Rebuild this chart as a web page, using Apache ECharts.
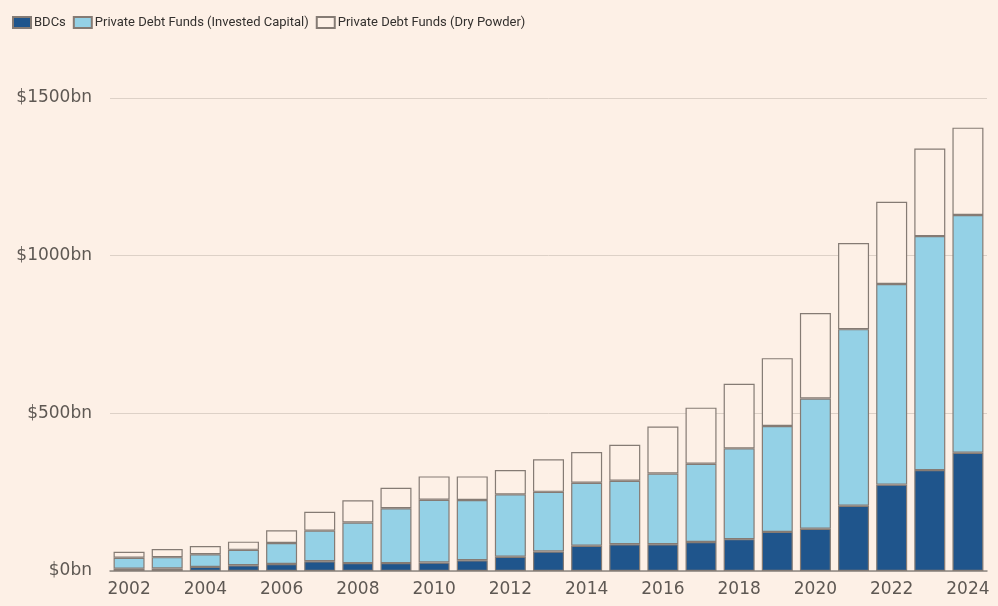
<!DOCTYPE html>
<html>
<head>
<meta charset="utf-8">
<script src="https://cdn.jsdelivr.net/npm/echarts@6/dist/echarts.min.js"></script>
<style>
  html, body { margin: 0; padding: 0; background: #fdf0e6; }
  #chart { width: 998px; height: 606px; }
</style>
</head>
<body>
<div id="chart"></div>
<script>
// Years on the category axis
const years = ['2002','2003','2004','2005','2006','2007','2008','2009','2010','2011','2012',
  '2013','2014','2015','2016','2017','2018','2019','2020','2021','2022','2023','2024'];

// Assets held by business development companies ($bn)
const bdcs = [7, 8, 13, 18, 22, 31, 25, 25, 27, 34, 45,
  62, 80, 85, 85, 92, 101, 124, 134, 207, 274, 320, 375];

// Private debt funds: invested capital ($bn, stacked above BDCs)
const investedCapital = [35, 36, 40, 49, 67, 97, 129, 174, 199, 191, 198,
  189, 200, 201, 224, 248, 288, 336, 413, 560, 636, 742, 754];

// Private debt funds: uninvested dry powder ($bn, stacked on top)
const dryPowder = [19, 26, 26, 26, 40, 60, 70, 65, 74, 75, 77,
  103, 97, 114, 149, 178, 205, 215, 271, 273, 261, 278, 277];

const yTicks = [0, 500, 1000, 1500];

const bg = '#fdf0e6';
const edge = '#857b74';

const chart = echarts.init(document.getElementById('chart'));
chart.setOption({
  backgroundColor: bg,
  animation: false,
  legend: {
    left: 7,
    top: 11,
    icon: 'rect',
    itemWidth: 18,
    itemHeight: 11,
    itemGap: 7,
    textStyle: {
      color: '#33302e',
      fontSize: 13,
      fontFamily: 'Roboto',
      padding: [0, 0, 0, -2]
    },
    data: ['BDCs', 'Private Debt Funds (Invested Capital)', 'Private Debt Funds (Dry Powder)']
  },
  grid: { left: 110, right: 11, top: 98, bottom: 35, containLabel: false },
  xAxis: {
    type: 'category',
    data: years,
    axisLine: { lineStyle: { color: '#8f8882', width: 1.5 } },
    axisTick: { alignWithLabel: true, length: 6, lineStyle: { color: '#a39a93', width: 1.5 } },
    axisLabel: {
      interval: 1,
      color: '#5e5853',
      fontSize: 17,
      fontFamily: 'DejaVu Sans',
      margin: 10
    }
  },
  yAxis: {
    type: 'value',
    min: yTicks[0],
    max: yTicks[yTicks.length - 1],
    interval: 500,
    axisLine: { show: false },
    axisTick: { show: false },
    axisLabel: {
      color: '#5e5853',
      fontSize: 17,
      fontFamily: 'DejaVu Sans',
      margin: 18,
      formatter: v => '$' + v + 'bn'
    },
    splitLine: { lineStyle: { color: '#ddd1c7', width: 1 } }
  },
  series: [
    {
      name: 'BDCs',
      type: 'bar',
      stack: 'total',
      barWidth: 31,
      data: bdcs,
      itemStyle: { color: '#1f558c', borderColor: edge, borderWidth: 1.2 }
    },
    {
      name: 'Private Debt Funds (Invested Capital)',
      type: 'bar',
      stack: 'total',
      data: investedCapital,
      itemStyle: { color: '#94d1e6', borderColor: edge, borderWidth: 1.2 }
    },
    {
      name: 'Private Debt Funds (Dry Powder)',
      type: 'bar',
      stack: 'total',
      data: dryPowder,
      itemStyle: { color: bg, borderColor: edge, borderWidth: 1.2 }
    }
  ]
});
</script>
</body>
</html>
